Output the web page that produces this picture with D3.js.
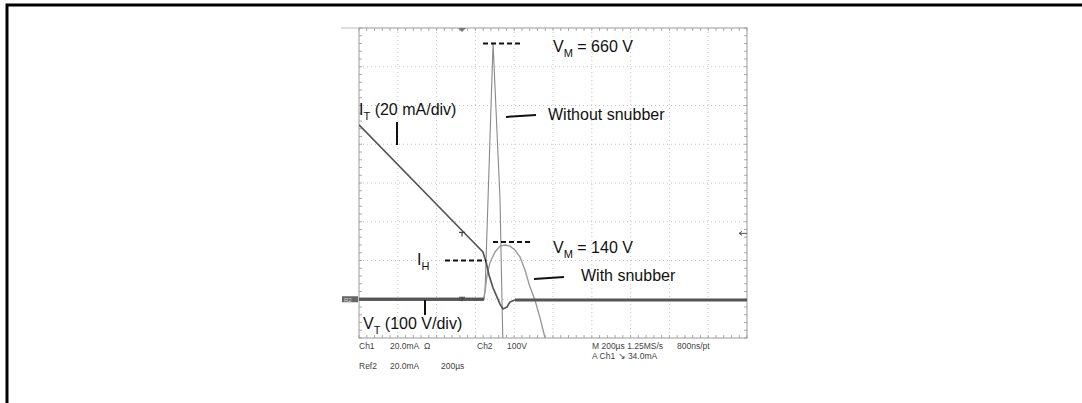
<!DOCTYPE html>
<html>
<head>
<meta charset="utf-8">
<script src="https://cdn.jsdelivr.net/npm/d3@7"></script>
<style>
  body { margin: 0; background: #fff; }
  svg { display: block; }
  .ann { font-family: "Liberation Sans", Arial, sans-serif; font-size: 16px; fill: #111; }
  .scope { font-family: "Liberation Sans Narrow", "Liberation Sans", sans-serif; font-size: 8.5px; fill: #444; }
</style>
</head>
<body>
<svg id="chart" width="1082" height="403"></svg>
<script>
'use strict'

// time in µs (200 µs/div), voltage in V (100 V/div), current in mA (20 mA/div)
const currentT = [0, 639, 655, 670, 691, 711, 727, 742, 763, 778, 804, 2000]
const currentI = [90, 24.4, 19.2, 12.5, 5.8, 1.2, -2.5, -5.0, -4.0, -1.4, -0.4, -0.4]

const noSnubT = [0, 644, 650, 691, 727, 737, 742]
const noSnubV = [0, 0, 24, 661, 256, -2, -118]

const snubT = [0, 644, 660, 675, 701, 727, 753, 778, 804, 830, 856, 881, 907, 933, 959, 974]
const snubV = [0, 0, 63, 94, 122, 137, 140, 137, 127, 109, 75, 32, -2, -48, -100, -131]

const timeTicks = d3.range(0, 2001, 200)
const voltTicks = d3.range(-100, 701, 100)

const triggerTime = 531   // µs
const triggerLevel = 34   // mA
const peakNoSnub = 660
const peakSnub = 140
const holdCurrent = 19.5

const svg = d3.select('#chart')

// outer frame
svg.append('path')
    .attr('d', 'M7,403 L7,5 L1090,5')
    .style('fill', 'none').style('stroke', '#000').style('stroke-width', 3)

const plotL = 359, plotR = 747, plotT = 28, plotB = 338

const x = d3.scaleLinear().domain([0, 2000]).range([plotL, plotR])
const yV = d3.scaleLinear().domain([-100, 700]).range([plotB, plotT])
const yI = d3.scaleLinear().domain([-20, 140]).range([plotB, plotT])

svg.append('clipPath').attr('id', 'plot')
    .append('rect').attr('x', plotL).attr('y', plotT).attr('width', plotR - plotL).attr('height', plotB - plotT)

// grid
const grid = svg.append('g')
grid.selectAll('.vg').data(timeTicks.slice(1, -1)).enter().append('line')
    .attr('x1', d => x(d)).attr('x2', d => x(d)).attr('y1', plotT).attr('y2', plotB)
    .style('stroke', '#c4c4c4').style('stroke-dasharray', '1,3')
grid.selectAll('.hg').data(voltTicks.slice(1, -1)).enter().append('line')
    .attr('y1', d => yV(d)).attr('y2', d => yV(d)).attr('x1', plotL).attr('x2', plotR)
    .style('stroke', '#c4c4c4').style('stroke-dasharray', '1,3')

// border ticks (5 per division)
const minorT = d3.range(0, 2001, 40)
const minorV = d3.range(-100, 701, 20)
grid.selectAll('.tt').data(minorT).enter().append('line')
    .attr('x1', d => x(d)).attr('x2', d => x(d)).attr('y1', plotT).attr('y2', plotT + 3)
    .style('stroke', '#aaa')
grid.selectAll('.tb').data(minorT).enter().append('line')
    .attr('x1', d => x(d)).attr('x2', d => x(d)).attr('y1', plotB).attr('y2', plotB - 3)
    .style('stroke', '#aaa')
grid.selectAll('.tl').data(minorV).enter().append('line')
    .attr('y1', d => yV(d)).attr('y2', d => yV(d)).attr('x1', plotL).attr('x2', plotL + 3)
    .style('stroke', '#aaa')
grid.selectAll('.tr').data(minorV).enter().append('line')
    .attr('y1', d => yV(d)).attr('y2', d => yV(d)).attr('x1', plotR).attr('x2', plotR - 3)
    .style('stroke', '#aaa')

grid.append('rect')
    .attr('x', plotL).attr('y', plotT).attr('width', plotR - plotL).attr('height', plotB - plotT)
    .style('fill', 'none').style('stroke', '#999')
grid.append('line')
    .attr('x1', 341).attr('x2', plotL).attr('y1', plotT).attr('y2', plotT)
    .style('stroke', '#bbb')

// traces
const traces = [
    { t: noSnubT, v: noSnubV, y: yV, color: '#8a8a8a', width: 1.1 },
    { t: snubT, v: snubV, y: yV, color: '#9a9a9a', width: 1.4 },
    { t: currentT, v: currentI, y: yI, color: '#555', width: 1.7 }
]

const plot = svg.append('g').attr('clip-path', 'url(#plot)')
const line = d3.line().x(d => d[0]).y(d => d[1])

traces.forEach(tr => {
    const pts = tr.t.map((t, i) => [x(t), tr.y(tr.v[i])])
    plot.append('path')
        .datum(pts)
        .attr('d', line)
        .style('fill', 'none').style('stroke', tr.color).style('stroke-width', tr.width)
        .style('stroke-linejoin', 'round')
})

// slow (flat) parts of the traces look brighter on the scope -> darker and thicker
traces.forEach(tr => {
    const pts = tr.t.map((t, i) => [x(t), tr.y(tr.v[i])])
    for (let i = 1; i < pts.length; i++) {
        const dx = pts[i][0] - pts[i - 1][0]
        const dy = pts[i][1] - pts[i - 1][1]
        if (Math.abs(dy) <= 0.15 * Math.abs(dx) && dx > 5) {
            plot.append('line')
                .attr('x1', pts[i - 1][0]).attr('y1', pts[i - 1][1])
                .attr('x2', pts[i][0]).attr('y2', pts[i][1])
                .style('stroke', '#555').style('stroke-width', 3)
        }
    }
})

// scope markers
svg.append('path')
    .attr('d', `M${x(triggerTime) - 4},${plotT} L${x(triggerTime) + 4},${plotT} L${x(triggerTime)},${plotT + 4} Z`)
    .style('fill', '#777')
svg.append('path')
    .attr('d', `M${plotR},${yI(triggerLevel)} L${plotR - 8},${yI(triggerLevel)} M${plotR - 8},${yI(triggerLevel)} l3,-2 M${plotR - 8},${yI(triggerLevel)} l3,2`)
    .style('stroke', '#555').style('fill', 'none')
const tMark = (cx, cy) => svg.append('path')
    .attr('d', `M${cx - 3},${cy} L${cx + 3},${cy} M${cx},${cy} L${cx},${cy + 4}`)
    .style('stroke', '#444').style('stroke-width', 1.2)
tMark(x(triggerTime), yI(triggerLevel) - 1)
tMark(x(triggerTime), yV(0) - 2)

svg.append('rect')
    .attr('x', 342).attr('y', yV(0) - 3).attr('width', 16).attr('height', 6)
    .style('fill', '#666')
svg.append('text')
    .attr('x', 344).attr('y', yV(0) + 2.5)
    .style('font-family', 'Liberation Sans Narrow, sans-serif').style('font-size', '6px').style('fill', '#ddd')
    .text('R2')

// annotations
const ink = g => g.style('stroke', '#111').style('stroke-width', 2).style('fill', 'none')
const dashed = (x1, x2, yy) => ink(svg.append('line')
    .attr('x1', x1).attr('x2', x2).attr('y1', yy).attr('y2', yy))
    .style('stroke-dasharray', '5,3')

dashed(483, 522, yV(peakNoSnub))
dashed(493, 533, yV(peakSnub) - 3)
dashed(445, x(655), yI(holdCurrent) - 1)

ink(svg.append('line').attr('x1', 506).attr('y1', 117).attr('x2', 536).attr('y2', 115))
ink(svg.append('line').attr('x1', 534).attr('y1', 279).attr('x2', 564).attr('y2', 277))
ink(svg.append('line').attr('x1', 397).attr('y1', 122).attr('x2', 397).attr('y2', 145))
ink(svg.append('line').attr('x1', 425).attr('y1', 300).attr('x2', 425).attr('y2', 315))

function label(px, py, main, sub, rest) {
    const t = svg.append('text').attr('class', 'ann').attr('x', px).attr('y', py)
    t.append('tspan').text(main)
    t.append('tspan').attr('dy', 5).style('font-size', '11px').text(sub)
    if (rest) t.append('tspan').attr('dy', -5).text(rest)
}

label(553, 52, 'V', 'M', ` = ${peakNoSnub} V`)
label(553, 253, 'V', 'M', ` = ${peakSnub} V`)
label(359, 115, 'I', 'T', ' (20 mA/div)')
label(417, 265, 'I', 'H', '')
label(363, 329, 'V', 'T', ' (100 V/div)')
svg.append('text').attr('class', 'ann').attr('x', 548).attr('y', 120).text('Without snubber')
svg.append('text').attr('class', 'ann').attr('x', 581).attr('y', 281).text('With snubber')

// scope readout
const readout = [
    ['Ch1', 359, 349], ['20.0mA', 390, 349], ['\u03a9', 424, 349], ['Ch2', 477, 349], ['100V', 507, 349],
    ['M 200\u00b5s 1.25MS/s', 592, 349], ['800ns/pt', 677, 349],
    ['A  Ch1  \u2198  34.0mA', 592, 359],
    ['Ref2', 359, 369], ['20.0mA', 390, 369], ['200\u00b5s', 441, 369]
]
svg.selectAll('.ro').data(readout).enter().append('text')
    .attr('class', 'scope')
    .attr('x', d => d[1]).attr('y', d => d[2])
    .text(d => d[0])
</script>
</body>
</html>
